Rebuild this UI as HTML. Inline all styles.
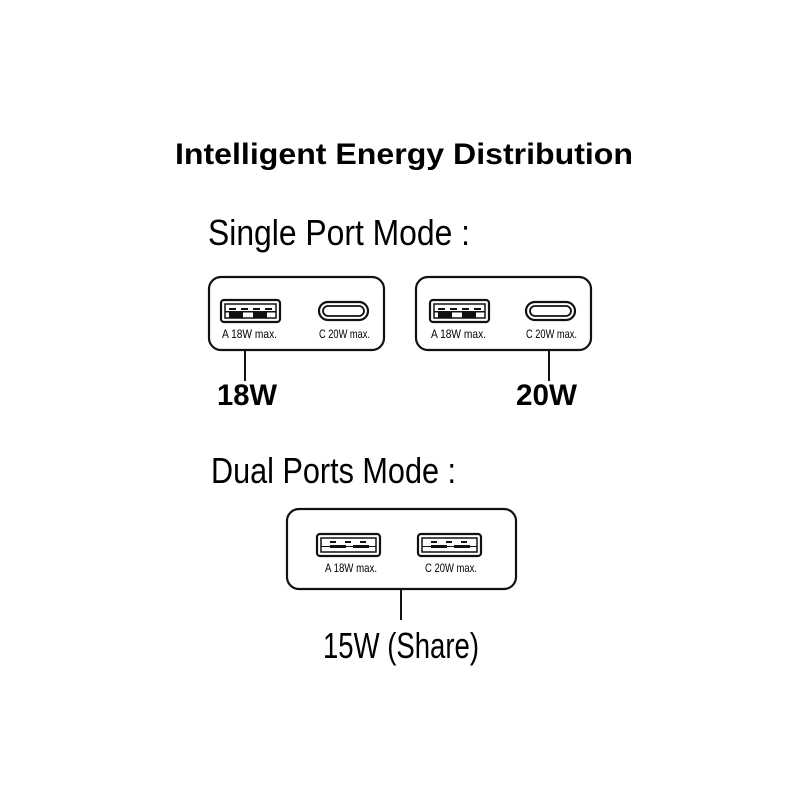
<!DOCTYPE html>
<html><head><meta charset="utf-8"><style>html,body{margin:0;padding:0;background:#fff}</style></head><body>
<svg width="800" height="800" viewBox="0 0 800 800" xmlns="http://www.w3.org/2000/svg" font-family="Liberation Sans, sans-serif">
<defs>
<g id="usba">
 <rect x="0" y="0" width="59" height="22" rx="3" fill="none" stroke="#111" stroke-width="2.2"/>
 <rect x="4" y="4" width="51" height="14" fill="none" stroke="#111" stroke-width="1.5"/>
 <rect x="8" y="8" width="7" height="2" fill="#111"/><rect x="20" y="8" width="7" height="2" fill="#111"/><rect x="32" y="8" width="7" height="2" fill="#111"/><rect x="44" y="8" width="7" height="2" fill="#111"/>
 <rect x="4" y="11" width="51" height="1.5" fill="#111"/>
 <rect x="8" y="12" width="14" height="6" fill="#111"/><rect x="32" y="12" width="14" height="6" fill="#111"/>
</g>
<g id="usba2">
 <rect x="0" y="0" width="63" height="22" rx="3" fill="none" stroke="#111" stroke-width="2.2"/>
 <rect x="4" y="4" width="55" height="14" fill="none" stroke="#111" stroke-width="1.5"/>
 <rect x="13" y="7" width="6" height="2" fill="#111"/><rect x="28" y="7" width="6" height="2" fill="#111"/><rect x="43" y="7" width="6" height="2" fill="#111"/>
 <rect x="4" y="12" width="55" height="1" fill="#111"/>
 <rect x="13" y="11" width="16" height="3" fill="#111"/><rect x="36" y="11" width="16" height="3" fill="#111"/>
</g>
<g id="usbc">
 <rect x="0" y="0" width="49" height="18" rx="9" fill="none" stroke="#111" stroke-width="2.2"/>
 <rect x="4" y="4" width="41" height="10" rx="5" fill="none" stroke="#111" stroke-width="1.8"/>
</g>
</defs>
<text x="175" y="164" font-size="30" font-weight="bold" textLength="458" lengthAdjust="spacingAndGlyphs">Intelligent Energy Distribution</text>
<text x="208" y="245" font-size="36" textLength="262" lengthAdjust="spacingAndGlyphs">Single Port Mode :</text>

<rect x="209" y="277" width="175" height="73" rx="12" fill="none" stroke="#111" stroke-width="2.2"/>
<use href="#usba" x="221" y="300"/>
<use href="#usbc" x="319" y="302"/>
<text x="222" y="338" font-size="12" textLength="55" lengthAdjust="spacingAndGlyphs">A 18W max.</text>
<text x="319" y="338" font-size="12" textLength="51" lengthAdjust="spacingAndGlyphs">C 20W max.</text>
<line x1="245" y1="350" x2="245" y2="381" stroke="#111" stroke-width="2"/>
<text x="217" y="405" font-size="30" font-weight="bold" textLength="60" lengthAdjust="spacingAndGlyphs">18W</text>

<rect x="416" y="277" width="175" height="73" rx="12" fill="none" stroke="#111" stroke-width="2.2"/>
<use href="#usba" x="430" y="300"/>
<use href="#usbc" x="526" y="302"/>
<text x="431" y="338" font-size="12" textLength="55" lengthAdjust="spacingAndGlyphs">A 18W max.</text>
<text x="526" y="338" font-size="12" textLength="51" lengthAdjust="spacingAndGlyphs">C 20W max.</text>
<line x1="549" y1="350" x2="549" y2="381" stroke="#111" stroke-width="2"/>
<text x="516" y="405" font-size="30" font-weight="bold" textLength="61" lengthAdjust="spacingAndGlyphs">20W</text>

<text x="211" y="483" font-size="36" textLength="245" lengthAdjust="spacingAndGlyphs">Dual Ports Mode :</text>

<rect x="287" y="509" width="229" height="80" rx="12" fill="none" stroke="#111" stroke-width="2.2"/>
<use href="#usba2" x="317" y="534"/>
<use href="#usba2" x="418" y="534"/>
<text x="325" y="572" font-size="12" textLength="52" lengthAdjust="spacingAndGlyphs">A 18W max.</text>
<text x="425" y="572" font-size="12" textLength="52" lengthAdjust="spacingAndGlyphs">C 20W max.</text>
<line x1="401" y1="589" x2="401" y2="620" stroke="#111" stroke-width="2"/>
<text x="323" y="658" font-size="36" textLength="156" lengthAdjust="spacingAndGlyphs">15W (Share)</text>
</svg>
</body></html>
